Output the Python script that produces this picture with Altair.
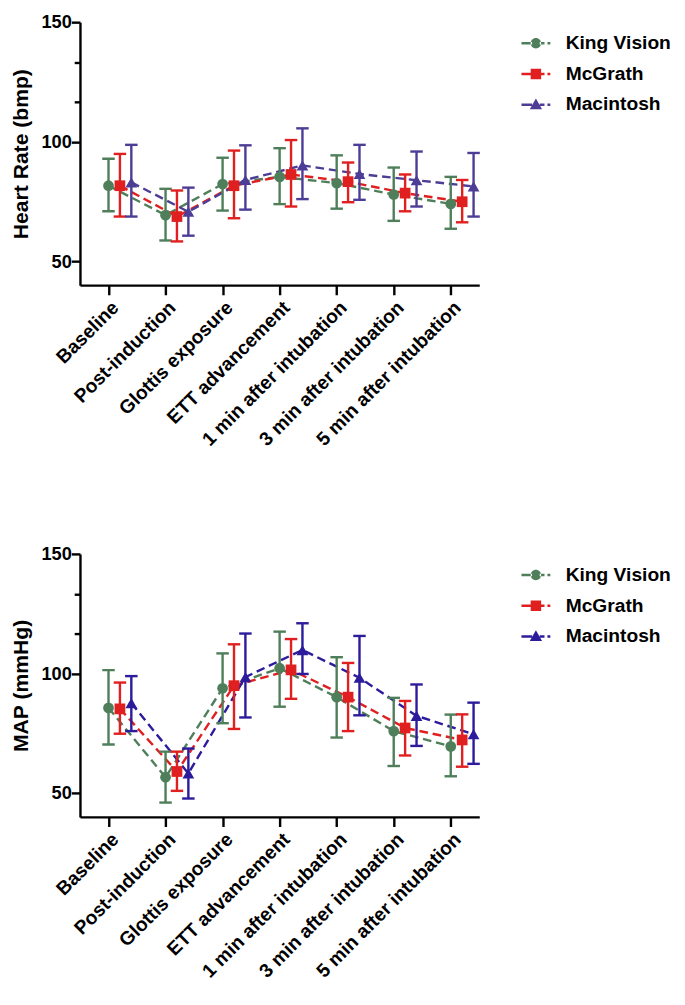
import json
import altair as alt
import pandas as pd

categories = ["Baseline", "Post-induction", "Glottis exposure", "ETT advancement",
              "1 min after intubation", "3 min after intubation", "5 min after intubation"]
series = ["King Vision", "McGrath", "Macintosh"]
marker_shapes = ["circle", "square", "triangle-up"]

# Heart rate (bpm)
hr_kv_mean = [81.6, 69.3, 82.3, 85.3, 82.7, 77.9, 74.0]
hr_kv_low = [70.9, 58.7, 71.2, 73.9, 72.0, 66.9, 63.6]
hr_kv_high = [92.9, 80.3, 93.3, 97.3, 94.3, 89.2, 85.3]
hr_mg_mean = [81.6, 68.7, 81.6, 86.3, 83.3, 78.5, 74.9]
hr_mg_low = [68.7, 58.3, 68.0, 72.9, 74.7, 70.9, 66.3]
hr_mg_high = [94.9, 79.6, 96.3, 100.7, 91.3, 86.3, 84.0]
hr_mc_mean = [83.0, 70.7, 84.0, 90.1, 86.5, 83.9, 81.3]
hr_mc_low = [68.7, 60.7, 71.6, 76.0, 75.7, 72.9, 68.7]
hr_mc_high = [98.7, 80.8, 98.5, 105.6, 98.7, 95.9, 95.3]

# MAP (mmHg)
map_kv_mean = [85.6, 56.6, 93.8, 102.2, 90.1, 75.9, 69.5]
map_kv_low = [70.3, 46.0, 79.2, 86.1, 73.2, 61.3, 57.0]
map_kv_high = [101.4, 67.3, 108.4, 117.5, 106.8, 89.8, 82.8]
map_mg_mean = [85.2, 59.0, 94.9, 101.5, 90.1, 77.2, 72.2]
map_mg_low = [74.8, 50.9, 76.8, 89.4, 75.9, 65.7, 61.0]
map_mg_high = [96.2, 67.3, 112.2, 114.4, 104.4, 88.5, 82.9]
map_mc_mean = [87.6, 58.2, 98.5, 109.8, 98.2, 82.3, 74.6]
map_mc_low = [75.9, 47.7, 81.6, 99.8, 82.5, 69.7, 62.2]
map_mc_high = [98.9, 68.6, 116.7, 121.0, 115.7, 95.4, 87.8]

green = "#4f7f5a"
red = "#e02020"
purple = "#4e3d96"
blue = "#2c1c9c"

FONT = "Liberation Sans"


def build_df(groups):
    rows = []
    for s, (m, lo, hi) in zip(series, groups):
        for i, c in enumerate(categories):
            rows.append({"idx": i, "category": c, "series": s,
                         "mean": m[i], "low": lo[i], "high": hi[i]})
    return pd.DataFrame(rows)


hr_df = build_df([(hr_kv_mean, hr_kv_low, hr_kv_high),
                  (hr_mg_mean, hr_mg_low, hr_mg_high),
                  (hr_mc_mean, hr_mc_low, hr_mc_high)])
map_df = build_df([(map_kv_mean, map_kv_low, map_kv_high),
                   (map_mg_mean, map_mg_low, map_mg_high),
                   (map_mc_mean, map_mc_low, map_mc_high)])

# legend symbols: line + marker + dash + dot
line_l = "M-0.94,-0.08 L-0.25,-0.08 L-0.25,0.08 L-0.94,0.08 Z"
line_r = "M0.25,-0.08 L0.56,-0.08 L0.56,0.08 L0.25,0.08 Z M0.75,-0.08 L0.94,-0.08 L0.94,0.08 L0.75,0.08 Z"
circ = "M-0.34,0 A0.34,0.34 0 1,0 0.34,0 A0.34,0.34 0 1,0 -0.34,0 Z"
sq = "M-0.34,-0.34 L0.34,-0.34 L0.34,0.34 L-0.34,0.34 Z"
tri = "M0,-0.4 L0.4,0.3 L-0.4,0.3 Z"
paths = {series[0]: f"{line_l} {circ} {line_r}",
         series[1]: f"{line_l} {sq} {line_r}",
         series[2]: f"{line_l} {tri} {line_r}"}
sym_expr = (f"datum.value == '{series[0]}' ? '{paths[series[0]]}' : "
            f"(datum.value == '{series[1]}' ? '{paths[series[1]]}' : '{paths[series[2]]}')")

cat_expr = json.dumps(categories) + "[datum.value]"
ser_expr = json.dumps(series)


def panel(df, ytitle, colors):
    base = alt.Chart(df).transform_calculate(
        xp=f"datum.idx + indexof({ser_expr}, datum.series) * 0.2"
    )
    x = alt.X("xp:Q", scale=alt.Scale(domain=[-0.5, 6.5], nice=False, zero=False),
              axis=alt.Axis(values=list(range(len(categories))), labelExpr=cat_expr,
                            labelAngle=-45, labelOverlap=False, tickSize=10,
                            labelPadding=3, labelFontSize=20, labelLimit=400,
                            labelAlign="right", labelBaseline="top"),
              title=None)
    yscale = alt.Scale(domain=[40, 150], nice=False, zero=False)
    yaxis = alt.Axis(values=[50, 100, 116.67, 133.33, 150],
                     labelExpr="datum.value % 50 == 0 ? datum.label : ''",
                     tickSize={"condition": {"test": "datum.value % 50 == 0", "value": 9}, "value": 6},
                     labelFontSize=19, labelPadding=0, titleFontSize=22, titlePadding=9)
    cscale = alt.Scale(domain=series, range=colors)
    legend = alt.Legend(title=None, orient="right", offset=37,
                        symbolType={"expr": sym_expr}, symbolSize=1024,
                        symbolStrokeWidth=0, symbolOpacity=1,
                        labelFont=FONT, labelFontSize=20,
                        labelFontWeight="bold", labelColor="black",
                        labelOffset=15, rowPadding=6, padding=6,
                        labelLimit=300)
    color = alt.Color("series:N", scale=cscale, legend=legend)

    line = base.mark_line(strokeDash=[9, 5], strokeWidth=2.5).encode(
        x=x, y=alt.Y("mean:Q", scale=yscale, axis=yaxis, title=ytitle),
        color=color, detail="series:N")
    rule = base.mark_rule(strokeWidth=2.5).encode(
        x=x, y=alt.Y("low:Q", scale=yscale), y2="high:Q", color=color)
    caps = base.transform_fold(["low", "high"], as_=["which", "val"]).mark_tick(
        orient="horizontal", size=13, thickness=2.5, opacity=1).encode(
        x=x, y=alt.Y("val:Q", scale=yscale), color=color)
    pts = []
    for s, sh in zip(series, marker_shapes):
        pts.append(
            base.transform_filter(alt.datum.series == s).mark_point(
                filled=True, opacity=1, size=150 if sh == "triangle-up" else 125, shape=sh
            ).encode(x=x, y=alt.Y("mean:Q", scale=yscale), color=color)
        )
    return alt.layer(line, rule, caps, *pts).properties(width=416, height=274)


top = panel(hr_df, "Heart Rate (bmp)", [green, red, purple])
bottom = panel(map_df, "MAP (mmHg)", [green, red, blue])

chart = alt.vconcat(top, bottom, spacing=100).resolve_scale(
    color="independent"
).properties(padding={"left": 2, "top": -15, "right": 0, "bottom": 0}).configure_view(
    stroke=None
).configure_axis(
    grid=False, domainColor="black", domainWidth=2.5, tickColor="black", tickWidth=2.5,
    labelColor="black", titleColor="black", labelFont=FONT, titleFont=FONT,
    labelFontWeight="bold", titleFontWeight="bold"
).configure_legend(labelFont=FONT)

chart.save("out.html", embed_options={"renderer": "svg", "actions": False})
